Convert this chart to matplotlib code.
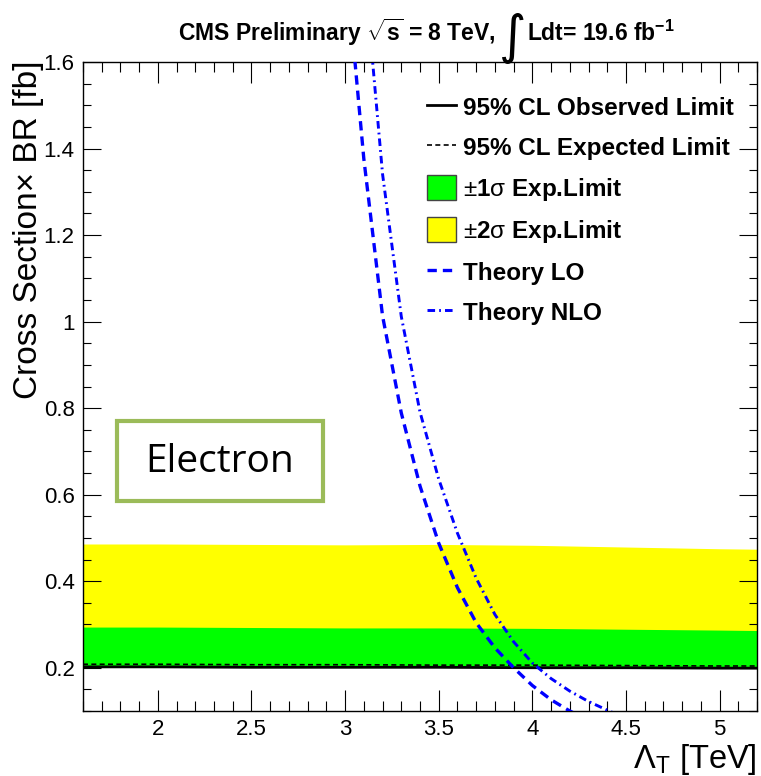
import matplotlib
matplotlib.use("Agg")
import matplotlib.pyplot as plt
from matplotlib.lines import Line2D
from matplotlib.patches import Patch, Rectangle
from matplotlib.ticker import MultipleLocator, FuncFormatter

plt.rcParams['font.family'] = ['Liberation Sans', 'DejaVu Sans']
plt.rcParams['mathtext.fontset'] = 'custom'
plt.rcParams['mathtext.rm'] = 'Liberation Sans'
plt.rcParams['mathtext.it'] = 'Liberation Sans'
plt.rcParams['mathtext.bf'] = 'Liberation Sans:bold'

# limit bands vs Lambda_T [TeV]
lam = [1.6, 2.0, 2.5, 3.0, 3.5, 4.0, 4.5, 5.0, 5.2]
observed = [0.202, 0.202, 0.201, 0.201, 0.201, 0.200, 0.200, 0.199, 0.199]
expected = [0.208, 0.208, 0.207, 0.207, 0.206, 0.206, 0.205, 0.204, 0.204]
plus1 = [0.294, 0.294, 0.293, 0.292, 0.292, 0.291, 0.289, 0.287, 0.286]
plus2 = [0.486, 0.486, 0.485, 0.484, 0.485, 0.483, 0.479, 0.475, 0.474]
minus1 = [0.203, 0.203, 0.202, 0.202, 0.202, 0.201, 0.201, 0.200, 0.200]
minus2 = [0.202, 0.202, 0.201, 0.201, 0.201, 0.200, 0.200, 0.199, 0.199]

# theory cross sections
lam_lo = [3.0, 3.1, 3.2, 3.3, 3.4, 3.5, 3.6, 3.7, 3.8, 3.9, 4.0, 4.1, 4.2, 4.3]
xs_lo = [1.85, 1.376, 1.013, 0.789, 0.620, 0.488, 0.385, 0.304, 0.246,
         0.200, 0.159, 0.126, 0.100, 0.079]
lam_nlo = [3.0, 3.1, 3.2, 3.3, 3.4, 3.5, 3.6, 3.7, 3.8, 3.9, 4.0, 4.1, 4.2,
           4.3, 4.4, 4.5]
xs_nlo = [2.49, 1.83, 1.341, 1.012, 0.791, 0.636, 0.511, 0.407, 0.323,
          0.260, 0.211, 0.175, 0.146, 0.122, 0.102, 0.083]

blue = '#0000ff'
lo_style = (0, (2.8, 1.8))
nlo_style = (0, (2.6, 1.4, 0.6, 1.4))

fig = plt.figure(figsize=(7.61, 7.76), dpi=100)
ax = fig.add_axes([83 / 761, 65 / 776, 674 / 761, 649 / 776])

ax.fill_between(lam, minus2, plus2, color='#ffff00', lw=0, zorder=1)
ax.fill_between(lam, minus1, plus1, color='#00ff00', lw=0, zorder=2)
ax.plot(lam, expected, color='black', lw=1.2, ls=(0, (3, 2)), zorder=3)
ax.plot(lam, observed, color='black', lw=2.0, zorder=4)
ax.plot(lam_lo, xs_lo, color=blue, lw=2.4, ls=lo_style, zorder=5)
ax.plot(lam_nlo, xs_nlo, color=blue, lw=2.1, ls=nlo_style, zorder=5)

ax.set_xlim(1.6, 5.2)
ax.set_ylim(0.1, 1.6)
ax.xaxis.set_major_locator(MultipleLocator(0.5))
ax.xaxis.set_minor_locator(MultipleLocator(0.1))
ax.yaxis.set_major_locator(MultipleLocator(0.2))
ax.yaxis.set_minor_locator(MultipleLocator(0.05))
fmt = FuncFormatter(lambda v, p: f"{v:g}")
ax.xaxis.set_major_formatter(fmt)
ax.yaxis.set_major_formatter(fmt)
ax.tick_params(axis='both', which='both', direction='in', top=True,
               right=True, width=0.8, labelsize=16, pad=6)
ax.tick_params(axis='x', which='major', length=15)
ax.tick_params(axis='x', which='minor', length=7.5)
ax.tick_params(axis='y', which='major', length=13)
ax.tick_params(axis='y', which='minor', length=6)
for sp in ax.spines.values():
    sp.set_linewidth(1.0)

ax.set_ylabel("Cross Section\u00d7 BR [fb]", fontsize=24, loc='top')
ax.yaxis.set_label_coords(-0.058, 1.003)
ax.set_xlabel(r"$\Lambda_{\mathrm{T}}$ [TeV]", fontsize=23.5, loc='right')
ax.xaxis.set_label_coords(1.0, -0.048)

handles = [
    Line2D([], [], color='black', lw=2.0),
    Line2D([], [], color='black', lw=1.2, ls=(0, (3, 2))),
    Patch(facecolor='#00ff00', edgecolor='#444444', lw=1),
    Patch(facecolor='#ffff00', edgecolor='#444444', lw=1),
    Line2D([], [], color=blue, lw=2.4, ls=lo_style),
    Line2D([], [], color=blue, lw=2.1, ls=nlo_style),
]
labels = [
    "95% CL Observed Limit",
    "95% CL Expected Limit",
    r"$\pm$1$\sigma$ Exp.Limit",
    r"$\pm$2$\sigma$ Exp.Limit",
    "Theory LO",
    "Theory NLO",
]
leg = ax.legend(handles, labels, loc='upper left',
                bbox_to_anchor=(0.510, 0.950), frameon=False, borderpad=0,
                borderaxespad=0, handlelength=1.2, handleheight=1.2,
                handletextpad=0.3, labelspacing=0.6,
                prop={'size': 17.5, 'weight': 'bold'})
leg.set_zorder(10)

# channel tag
ax.add_patch(Rectangle((0.050, 0.324), 0.306, 0.123, transform=ax.transAxes,
                       facecolor='white', edgecolor='#9bbb59', lw=3,
                       zorder=8))
ax.text(0.2025, 0.384, "Electron", transform=ax.transAxes, ha='center',
        va='center', fontsize=28, family='Open Sans', zorder=9)

# header
t1 = fig.text(178 / 761, 0.947, r"CMS Preliminary $\sqrt{\mathbf{s}}$ = 8 TeV,",
              fontsize=16.5, weight='bold', va='baseline')
t2 = ax.annotate("\u222b", xy=(1, 0.932), xycoords=(t1, 'figure fraction'),
                 xytext=(2, 0), textcoords='offset points', fontsize=38,
                 family='DejaVu Sans', va='baseline', annotation_clip=False)
ax.annotate(r"Ldt= 19.6 fb$^{\mathbf{-1}}$", xy=(1, 0.947),
            xycoords=(t2, 'figure fraction'), xytext=(1, 0),
            textcoords='offset points', fontsize=16.5, weight='bold',
            va='baseline', annotation_clip=False)

fig.savefig("out.png", dpi=100)
